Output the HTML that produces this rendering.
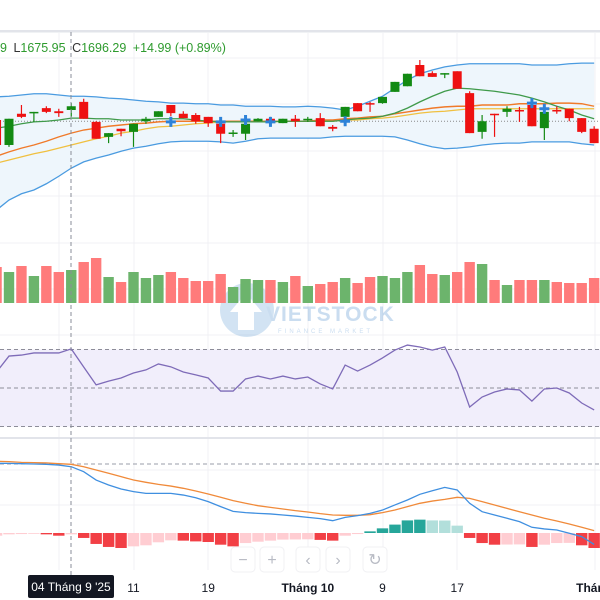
<!DOCTYPE html>
<html><head><meta charset="utf-8">
<style>
html,body{margin:0;padding:0;background:#fff;width:600px;height:600px;overflow:hidden;font-family:"Liberation Sans",sans-serif}
svg{display:block}
</style></head>
<body>
<svg id="chart" width="600" height="600" viewBox="0 0 600 600" xmlns="http://www.w3.org/2000/svg">
  <rect x="0" y="0" width="600" height="600" fill="#ffffff"/>
  <rect x="0" y="30" width="600" height="2.5" fill="#e2e4ea"/>
  <g id="grid"></g>
  <g id="bb"></g>
  <g id="watermark" opacity="0.35">
    <circle cx="247" cy="310" r="27" fill="#7fb2dd"/>
    <path d="M238 330 L238 312 L230 312 L246 293 L262 312 L254 312 L254 330 Z" fill="#ffffff"/>
    <text x="266" y="321" font-size="21" font-weight="bold" fill="#6a9fd6" letter-spacing="1">VIETSTOCK</text>
    <text x="278" y="333" font-size="6" fill="#6a9fd6" letter-spacing="3">FINANCE MARKET</text>
  </g>
  <g id="volume"></g>
  <g id="candles"></g>
  <g id="signals"></g>
  <g id="rsi"></g>
  <rect x="0" y="437" width="600" height="2" fill="#e2e4ea"/>
  <g id="macd"></g>
  <line x1="71" y1="32" x2="71" y2="575" stroke="#8a8e99" stroke-width="1" stroke-dasharray="4,3"/>
  <text x="0" y="52" font-size="12.5"><tspan fill="#2e9b2e">9 </tspan><tspan fill="#333" dx="3">L</tspan><tspan fill="#2e9b2e">1675.95 </tspan><tspan fill="#333" dx="3">C</tspan><tspan fill="#2e9b2e">1696.29 </tspan><tspan fill="#2e9b2e" dx="3">+14.99 (+0.89%)</tspan></text>
  <g id="nav"></g>
  <g id="xaxis"></g>
  <g>
    <rect x="28" y="575" width="86" height="23" rx="2" fill="#131722"/>
    <text x="71" y="591" font-size="12" fill="#ffffff" text-anchor="middle">04 Tháng 9 '25</text>
  </g>
</svg>
<script>
// ---- data (first element = candle partially off-screen at left) ----
const openP  = [1674,1634,1684,1685,1693,1688,1690,1703,1671,1647,1660,1655,1672,1679,1698,1684,1682,1679,1668,1652,1652,1672,1676,1669,1676,1675,1677,1663,1679,1701,1701,1701,1719,1728,1762,1749,1748,1752,1717,1655,1684,1687,1690,1698,1661,1690,1692,1677,1660];
const highP  = [1677,1676,1698,1687,1696,1692,1701,1708,1672,1653,1660,1668,1679,1688,1698,1688,1685,1679,1677,1658,1679,1677,1679,1676,1682,1679,1685,1666,1695,1701,1703,1711,1735,1748,1770,1752,1749,1752,1720,1682,1684,1696,1695,1701,1690,1696,1692,1677,1664];
const lowP   = [1626,1631,1677,1671,1685,1679,1679,1676,1644,1637,1648,1631,1668,1679,1680,1677,1668,1663,1637,1647,1642,1672,1668,1669,1663,1671,1664,1656,1672,1688,1687,1700,1719,1728,1744,1743,1741,1724,1653,1644,1647,1679,1671,1664,1642,1684,1672,1653,1637];
const closeP = [1634,1676,1679,1687,1687,1685,1696,1676,1644,1653,1656,1668,1676,1688,1685,1677,1672,1669,1652,1654,1668,1676,1671,1676,1672,1676,1664,1660,1695,1688,1700,1711,1735,1748,1744,1743,1749,1724,1653,1672,1682,1692,1688,1664,1687,1688,1677,1655,1637];
const bbUpper = [1711,1712,1714,1716,1716,1714,1712,1712,1711,1709,1708,1706,1704,1703,1701,1701,1700,1700,1698,1698,1696,1696,1696,1695,1695,1696,1695,1693,1690,1696,1704,1712,1725,1738,1748,1754,1759,1762,1764,1764,1764,1764,1764,1762,1762,1762,1764,1765,1765];
const bbLower = [1530,1546,1556,1562,1572,1584,1597,1607,1613,1618,1624,1629,1632,1636,1639,1640,1640,1640,1639,1637,1640,1644,1645,1645,1645,1645,1645,1647,1648,1648,1648,1648,1647,1642,1636,1631,1628,1629,1631,1634,1636,1637,1637,1639,1639,1639,1639,1636,1634];
const bbMid   = [1661,1664,1668,1671,1672,1674,1677,1677,1676,1676,1674,1674,1674,1676,1676,1676,1674,1672,1671,1671,1671,1671,1671,1672,1672,1672,1672,1672,1674,1676,1677,1680,1685,1693,1703,1712,1720,1725,1724,1722,1720,1717,1714,1709,1703,1696,1690,1682,1676];
const maOrange = [1616,1623,1629,1634,1640,1647,1653,1658,1661,1664,1666,1668,1669,1671,1672,1672,1672,1672,1672,1672,1672,1672,1672,1672,1672,1672,1674,1674,1676,1677,1679,1680,1684,1687,1690,1693,1695,1696,1696,1698,1698,1698,1700,1700,1700,1701,1701,1700,1696];
const maYellow = [1605,1610,1615,1620,1624,1629,1634,1639,1644,1648,1653,1656,1660,1663,1664,1666,1668,1669,1671,1671,1671,1671,1671,1672,1672,1672,1672,1672,1674,1674,1676,1677,1679,1682,1685,1687,1688,1690,1692,1692,1692,1692,1692,1692,1692,1692,1692,1692,1692];
const lastPrice = 1672;
const signalIdx = [14,18,20,22,28,43,44];
const signalPrice = [1671,1671,1674,1671,1672,1701,1692];
const volumeM = [3.6,3.1,3.7,2.7,3.7,3.1,3.3,4.1,4.5,2.6,2.1,3.1,2.5,2.8,3.1,2.5,2.2,2.2,2.9,1.6,2.4,2.3,2.3,2.1,2.7,1.7,1.9,2.1,2.5,2.0,2.6,2.7,2.5,3.1,3.8,2.9,2.8,3.1,4.1,3.9,2.3,1.8,2.3,2.3,2.3,2.1,2.0,2.0,2.5];
const rsiVals = [58.3,66.6,67.1,68.2,68.2,68.2,70.3,60.9,51.6,53.6,55.2,57.8,59.4,62.5,61.0,58.3,56.8,55.2,48.4,48.4,54.7,56.2,54.7,56.2,54.7,55.7,52.1,49.5,61.9,58.8,61.9,65.6,69.7,72.3,71.3,69.7,71.3,58.3,40.1,45.3,47.9,49.5,49.0,43.2,49.5,50.0,47.4,42.2,38.6];
const rsiLevels = [70,50,30];
const macdLine = [46.5,46.4,46.2,46.0,45.8,45.3,44.2,40.9,35.3,32.0,29.3,27.6,26.4,26.4,26.4,25.3,23.5,20.9,17.6,14.4,13.6,13.1,12.7,12.0,11.3,10.4,9.6,8.2,10.4,11.6,13.1,15.3,18.7,22.0,25.8,28.2,30.4,28.7,19.8,14.2,12.0,9.8,7.6,3.8,2.7,2.0,-0.2,-2.4,-7.6];
const signalLine = [47.8,47.6,47.1,46.9,46.7,46.2,45.8,44.2,42.0,39.8,37.6,35.3,33.8,32.4,31.3,29.8,28.0,26.0,23.8,21.6,19.8,18.2,17.1,16.0,14.9,14.0,12.9,12.0,11.8,11.8,12.2,13.6,15.3,17.6,19.8,21.3,22.4,23.8,23.1,20.9,18.7,16.4,14.2,12.0,9.8,8.0,6.0,3.8,1.6];
const histVals = [-1.8,-0.9,-0.7,-0.4,-0.9,-1.8,-0.9,-3.3,-7.3,-9.3,-10,-8.9,-8.2,-6.2,-4.9,-5.1,-5.6,-6.0,-7.8,-8.9,-6.7,-5.8,-5.1,-4.4,-4.3,-4.2,-4.6,-5.1,-1.8,-0.7,1.1,3.1,5.6,8.4,8.9,8.4,8.3,4.9,-3.3,-6.7,-7.8,-7.7,-7.6,-9.3,-7.8,-6.7,-6.6,-8.2,-10];
const tickIdx = [11,17,25,31,37,48];
const tickLabels = ["11","19","Tháng 10","9","17","Tháng"];
const tickBold = [false,false,true,false,false,true];

// ---- axis functions ----
const NS = "http://www.w3.org/2000/svg";
const xAt = k => -3.45 + 12.45 * k;
const yPrice = p => (1866 - p) * 0.625;
const yVol = v => 303 - v * 10;
const yRsi = v => 388 - (v - 50) * 1.925;
const yMacd = v => 533 - v * 1.5;
function mk(tag, attrs, parent){ const e=document.createElementNS(NS,tag); for(const a in attrs) e.setAttribute(a,attrs[a]); parent.appendChild(e); return e; }
function pathOf(vals, yf){ return vals.map((v,k)=>(k?'L':'M')+xAt(k).toFixed(2)+' '+yf(v).toFixed(2)).join(' '); }

// grid
const grid = document.getElementById('grid');
[59,134,208,308,383,457,595].forEach(x=>{ const l=mk('line',{x1:x,y1:33,x2:x,y2:570,stroke:'#f0f1f4','stroke-width':1},grid);   });
[58,104,151,196,243,289,335,369,408,470,505].forEach(y=>{ const l=mk('line',{x1:0,y1:y,x2:600,y2:y,stroke:'#f0f1f4','stroke-width':1},grid);   });

// bollinger
const bb = document.getElementById('bb');
let fillD = pathOf(bbUpper,yPrice);
for(let k=bbLower.length-1;k>=0;k--) fillD += ' L'+xAt(k).toFixed(2)+' '+yPrice(bbLower[k]).toFixed(2);
const bf = mk('path',{d:fillD+' Z',fill:'#eef6fc'},bb);
 
const up = mk('path',{d:pathOf(bbUpper,yPrice),fill:'none',stroke:'#4a9be0','stroke-width':1.3},bb);
 
const lo = mk('path',{d:pathOf(bbLower,yPrice),fill:'none',stroke:'#4a9be0','stroke-width':1.3},bb);
 
const lp = mk('line',{x1:0,y1:yPrice(lastPrice),x2:600,y2:yPrice(lastPrice),stroke:'#8a8a8a','stroke-width':1,'stroke-dasharray':'1,2'},bb);
 
const yl = mk('path',{d:pathOf(maYellow,yPrice),fill:'none',stroke:'#f0c040','stroke-width':1.3},bb);
 
const ol = mk('path',{d:pathOf(maOrange,yPrice),fill:'none',stroke:'#f07a2a','stroke-width':1.4},bb);
 
const ml = mk('path',{d:pathOf(bbMid,yPrice),fill:'none',stroke:'#3f9a4a','stroke-width':1.3},bb);
 

// volume
const vg = document.getElementById('volume');
volumeM.forEach((v,k)=>{
  const up = closeP[k] >= openP[k];
  const r = mk('rect',{x:xAt(k)-5.2,y:yVol(v),width:10.4,height:303-yVol(v),fill:up?'#6cb46c':'#ff7b7b'},vg);
   
});

// candles
const cg = document.getElementById('candles');
openP.forEach((o,k)=>{
  const c = closeP[k], up = c >= o, col = up ? '#138a13' : '#ee1111';
  const x = xAt(k);
  const w = mk('line',{x1:x,y1:yPrice(highP[k]),x2:x,y2:yPrice(lowP[k]),stroke:col,'stroke-width':1.2},cg);
   
  const t = Math.min(yPrice(o),yPrice(c)), h = Math.max(1.5,Math.abs(yPrice(o)-yPrice(c)));
  const b = mk('rect',{x:x-4.5,y:t,width:9,height:h,fill:col},cg);
   
});

// signals
const sg = document.getElementById('signals');
signalIdx.forEach((k,i)=>{
  const x = xAt(k), y = yPrice(signalPrice[i]);
  const p = mk('path',{d:`M${x-5} ${y} H${x+5} M${x} ${y-5} V${y+5}`,stroke:'#2d82d8','stroke-width':3},sg);
   
});

// RSI
const rg = document.getElementById('rsi');
const rb = mk('rect',{x:0,y:yRsi(70),width:600,height:yRsi(30)-yRsi(70),fill:'#f1eefb'},rg);
 
rsiLevels.forEach(v=>{ const l=mk('line',{x1:0,y1:yRsi(v),x2:600,y2:yRsi(v),stroke:'#8d8d99','stroke-width':1,'stroke-dasharray':'4,3'},rg);   });
const rl = mk('path',{d:pathOf(rsiVals,yRsi),fill:'none',stroke:'#7e6bb8','stroke-width':1.3},rg);
 

// MACD
const mg = document.getElementById('macd');
const md = mk('line',{x1:0,y1:464,x2:600,y2:464,stroke:'#9a9ea8','stroke-width':1,'stroke-dasharray':'4,3'},mg);
 
histVals.forEach((v,k)=>{
  const prev = k>0 ? histVals[k-1] : v;
  let col;
  if(v>=0) col = v>=prev ? '#26a69a' : '#b2dfdb'; else col = v<prev ? '#f23f45' : '#ffcdd2';
  const y0 = yMacd(0), y1 = yMacd(v);
  const r = mk('rect',{x:xAt(k)-5.7,y:Math.min(y0,y1),width:11.4,height:Math.max(0.8,Math.abs(y1-y0)),fill:col},mg);
   
});
const sl = mk('path',{d:pathOf(signalLine,yMacd),fill:'none',stroke:'#f08a3a','stroke-width':1.3},mg);
 
const mcl = mk('path',{d:pathOf(macdLine,yMacd),fill:'none',stroke:'#3f8fe0','stroke-width':1.3},mg);
 

// nav buttons
const nav = document.getElementById('nav');
const navX = [243,272,308,338,375], navG = ['−','+','‹','›','↻'], navN=['zoom-out-button','zoom-in-button','scroll-left-button','scroll-right-button','reset-button'];
navX.forEach((x,i)=>{
  const g = mk('g',{},nav);
  
  
  mk('rect',{x:x-12,y:547,width:24,height:25,rx:4,fill:'#ffffff',stroke:'#f0f0f3'},g);
  const t = mk('text',{x:x,y:565,'font-size':16,fill:'#b8bbc4','text-anchor':'middle'},g);
  t.textContent = navG[i];
});

// x axis
const xg = document.getElementById('xaxis');
tickIdx.forEach((k,i)=>{
  const t = mk('text',{x:xAt(k),y:592,'font-size':12,fill:'#131722','text-anchor':'middle','font-weight':tickBold[i]?'bold':'normal'},xg);
   
  t.textContent = tickLabels[i];
});
</script>
</body></html>
